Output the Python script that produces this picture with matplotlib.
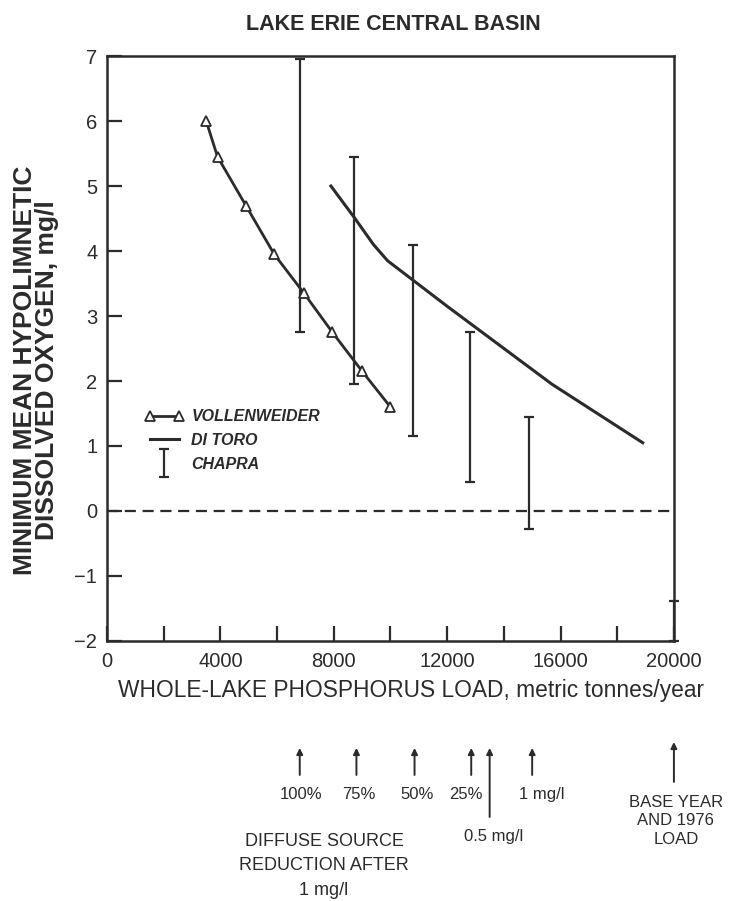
import matplotlib
matplotlib.use("Agg")
import matplotlib.pyplot as plt
from matplotlib.ticker import MultipleLocator, FixedLocator
from matplotlib.container import ErrorbarContainer
from matplotlib.legend_handler import HandlerErrorbar
import numpy as np

# ---------------- data ----------------
voll_x = [3500, 3900, 4900, 5900, 6950, 7950, 9000, 10000]
voll_y = [6.0, 5.45, 4.7, 3.95, 3.35, 2.75, 2.15, 1.6]

ditoro_x = [7900, 8750, 9400, 9900, 10800, 12000, 15700, 18900]
ditoro_y = [5.0, 4.5, 4.1, 3.85, 3.55, 3.15, 1.95, 1.05]

chapra_x = [6800, 8700, 10800, 12800, 14900]
chapra_low = [2.75, 1.95, 1.15, 0.45, -0.27]
chapra_high = [6.95, 5.45, 4.1, 2.75, 1.45]

base_x = [20000]
base_low = [-2.0]
base_high = [-1.38]

arrow_loads = [6800, 8800, 10850, 12850, 13500, 15000, 20000]
arrow_labels = ["100%", "75%", "50%", "25%", "0.5 mg/l", "1 mg/l", "BASE YEAR\nAND 1976\nLOAD"]

x_ticks_major = [0, 4000, 8000, 12000, 16000, 20000]
y_ticks = [-2, -1, 0, 1, 2, 3, 4, 5, 6, 7]

# ---------------- style ----------------
C = "#2b2b2b"
FONT = "Liberation Sans"
plt.rcParams["font.family"] = [FONT, "DejaVu Sans"]
plt.rcParams["text.color"] = C

fig = plt.figure(figsize=(7.43, 9.01), dpi=100)
ax = fig.add_axes([0.144, 0.2886, 0.763, 0.6492])

ax.set_xlim(0, 20000)
ax.set_ylim(-2, 7)

# zero line
ax.plot([0, 20000], [0, 0], color=C, lw=1.6, dashes=(5, 3), zorder=1)

# Vollenweider
ax.plot(voll_x, voll_y, color=C, lw=2.0, marker="^", ms=7, mfc="white",
        mec=C, mew=1.3, label="VOLLENWEIDER", zorder=3)
# Di Toro
ax.plot(ditoro_x, ditoro_y, color=C, lw=2.2, label="DI TORO", zorder=3)

# Chapra bars
lo = np.array(chapra_low)
hi = np.array(chapra_high)
mid = (lo + hi) / 2
ax.errorbar(chapra_x, mid, yerr=[mid - lo, hi - mid], fmt="none", ecolor=C,
            elinewidth=1.6, capsize=3.8, capthick=1.6, label="CHAPRA", zorder=2)
blo = np.array(base_low)
bhi = np.array(base_high)
bmid = (blo + bhi) / 2
eb = ax.errorbar(base_x, bmid, yerr=[bmid - blo, bhi - bmid], fmt="none",
                 ecolor=C, elinewidth=1.6, capsize=3.8, capthick=1.6, zorder=2)
for art in list(eb.lines[1]) + list(eb.lines[2]):
    art.set_clip_on(False)

# axes styling
for s in ax.spines.values():
    s.set_color(C)
    s.set_linewidth(1.8)

ax.xaxis.set_major_locator(FixedLocator(x_ticks_major))
ax.xaxis.set_minor_locator(MultipleLocator(2000))
ax.yaxis.set_major_locator(FixedLocator(y_ticks))
ax.tick_params(axis="both", which="both", direction="in", length=11,
               width=1.6, color=C, labelcolor=C, labelsize=14.5)
ax.tick_params(axis="x", which="both", pad=8)
ax.tick_params(axis="y", pad=7)
ax.set_xticklabels([str(v) for v in x_ticks_major])
ax.set_yticklabels([("\u2212" + str(-v)) if v < 0 else str(v) for v in y_ticks])

# legend
leg = ax.legend(loc="upper left", bbox_to_anchor=(0.042, 0.421), frameon=False,
                numpoints=2, handlelength=2.4, handletextpad=0.5,
                labelspacing=0.55,
                handler_map={ErrorbarContainer: HandlerErrorbar(numpoints=1, xerr_size=0.35, yerr_size=0.85)},
                prop={"family": FONT, "style": "italic", "weight": "bold", "size": 11.5})
for t in leg.get_texts():
    t.set_color(C)

# title
fig.text(393 / 743, 1 - 25 / 901, "LAKE ERIE CENTRAL BASIN", ha="center",
         va="center", fontsize=15.5, fontweight="bold", color=C)

# y label
fig.text(36 / 743, 1 - 370 / 901, "MINIMUM MEAN HYPOLIMNETIC\nDISSOLVED OXYGEN, mg/l",
         rotation=90, ha="center", va="center", fontsize=19, fontweight="bold",
         linespacing=0.88, color=C)

# x label
fig.text(118 / 743, 1 - 690 / 901, "WHOLE-LAKE PHOSPHORUS LOAD, metric tonnes/year",
         ha="left", va="center", fontsize=16.4, color=C)

# arrows below the axis
xt = ax.get_xaxis_transform()
H = 585.0  # axes height in px
def ay(py):
    return -(py - 641) / H

arrow_top = [748, 748, 748, 748, 748, 748, 742]
arrow_bot = [775, 775, 775, 775, 817, 775, 782]
label_y = [795, 795, 795, 795, 837, 795, 821]
label_dx = [1, 2, 3, -5, 4, 10, 2]
for xv, s, tp, bt, ly, dx in zip(arrow_loads, arrow_labels, arrow_top,
                                  arrow_bot, label_y, label_dx):
    ax.annotate("", xy=(xv, ay(tp)), xytext=(xv, ay(bt)), xycoords=xt,
                textcoords=xt, annotation_clip=False,
                arrowprops=dict(arrowstyle="-|>", color=C, lw=1.4,
                                mutation_scale=9, shrinkA=0, shrinkB=0))
    ax.annotate(s, xy=(xv, ay(ly)), xycoords=xt, xytext=(dx / 1.389, 0),
                textcoords="offset points", ha="center", va="center",
                fontsize=12, color=C, linespacing=1.3, annotation_clip=False)

fig.text(324 / 743, 1 - 866 / 901, "DIFFUSE SOURCE\nREDUCTION AFTER\n1 mg/l",
         ha="center", va="center", fontsize=13, linespacing=1.6, color=C)

fig.savefig("out.png", dpi=100, facecolor="white")
